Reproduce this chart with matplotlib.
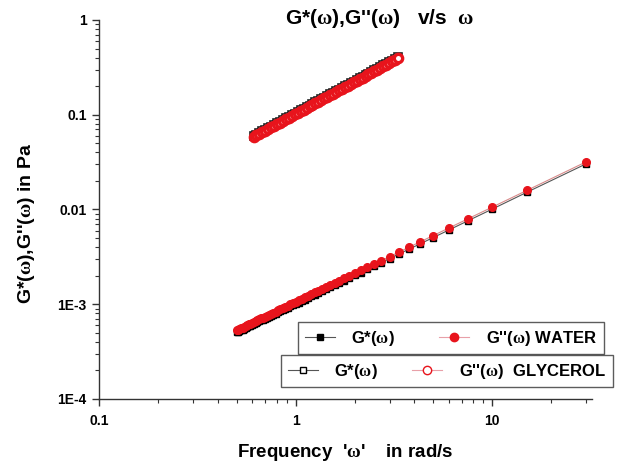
import matplotlib
matplotlib.use("Agg")
import matplotlib.pyplot as plt
from matplotlib.lines import Line2D
from matplotlib.ticker import FixedLocator, FixedFormatter, LogLocator, NullFormatter

plt.rcParams['font.family'] = ['Liberation Sans', 'DejaVu Sans']
plt.rcParams['font.weight'] = 'bold'
plt.rcParams['mathtext.fontset'] = 'custom'
plt.rcParams['mathtext.rm'] = 'Liberation Serif'

# water: frequency (rad/s), G* and G'' (mPa)
w_water = [30, 15, 10, 7.5, 6, 5, 4.286, 3.75, 3.333, 3, 2.727, 2.5, 2.308, 2.143, 2,
           1.875, 1.765, 1.667, 1.579, 1.5, 1.429, 1.364, 1.304, 1.25, 1.2, 1.154, 1.111,
           1.071, 1.034, 1, 0.968, 0.9375, 0.909, 0.882, 0.857, 0.833, 0.811, 0.789,
           0.769, 0.75, 0.732, 0.714, 0.698, 0.682, 0.667, 0.652, 0.638, 0.625, 0.612,
           0.6, 0.588, 0.577, 0.566, 0.556, 0.545, 0.536, 0.526, 0.517, 0.508, 0.5]
gstar_water = [30.3, 15.2, 10.1, 7.58, 6.06, 5.05, 4.33, 3.79, 3.37, 3.03, 2.75, 2.53, 2.33,
               2.16, 2.02, 1.89, 1.78, 1.68, 1.59, 1.52, 1.44, 1.38, 1.32, 1.26, 1.21, 1.17,
               1.12, 1.08, 1.04, 1.01, 0.978, 0.947, 0.918, 0.891, 0.866, 0.841, 0.819,
               0.797, 0.777, 0.758, 0.739, 0.721, 0.705, 0.689, 0.674, 0.659, 0.644, 0.631,
               0.618, 0.606, 0.594, 0.583, 0.572, 0.562, 0.550, 0.541, 0.531, 0.522, 0.513,
               0.505]
gpp_water = [31.8, 15.9, 10.6, 7.95, 6.36, 5.30, 4.54, 3.98, 3.53, 3.18, 2.89, 2.65, 2.45,
             2.27, 2.12, 1.99, 1.87, 1.77, 1.67, 1.59, 1.51, 1.45, 1.38, 1.33, 1.27, 1.22,
             1.18, 1.14, 1.10, 1.06, 1.03, 0.994, 0.964, 0.935, 0.908, 0.883, 0.860, 0.836,
             0.815, 0.795, 0.776, 0.757, 0.740, 0.723, 0.707, 0.691, 0.676, 0.663, 0.649,
             0.636, 0.623, 0.612, 0.600, 0.589, 0.578, 0.568, 0.558, 0.548, 0.538, 0.530]

# glycerol: frequency (rad/s), G* and G'' (Pa)
w_glyc = [0.610, 0.631, 0.653, 0.676, 0.700, 0.724, 0.750, 0.776, 0.804, 0.832, 0.861,
          0.891, 0.923, 0.955, 0.989, 1.023, 1.059, 1.097, 1.135, 1.175, 1.216, 1.259,
          1.303, 1.349, 1.396, 1.445, 1.496, 1.549, 1.603, 1.660, 1.718, 1.778, 1.841,
          1.906, 1.972, 2.042, 2.114, 2.188, 2.265, 2.344, 2.427, 2.512, 2.600, 2.692,
          2.786, 2.884, 2.985, 3.090, 3.199, 3.311]
gstar_glyc = [0.0594, 0.0618, 0.0642, 0.0668, 0.0694, 0.0722, 0.0751, 0.0781, 0.0813,
              0.0844, 0.0878, 0.0914, 0.0949, 0.0987, 0.1027, 0.1068, 0.1111, 0.1155,
              0.1201, 0.1249, 0.1299, 0.1349, 0.1404, 0.1460, 0.1518, 0.1578, 0.1640,
              0.1705, 0.1774, 0.1844, 0.1918, 0.1994, 0.2073, 0.2155, 0.2241, 0.2331,
              0.2423, 0.2519, 0.2619, 0.2723, 0.2832, 0.2945, 0.3061, 0.3183, 0.3310,
              0.3441, 0.3578, 0.3721, 0.3869, 0.4023]
gpp_glyc = [0.0583, 0.0606, 0.0630, 0.0655, 0.0681, 0.0709, 0.0737, 0.0766, 0.0797,
            0.0828, 0.0861, 0.0896, 0.0931, 0.0968, 0.1007, 0.1047, 0.1089, 0.1132,
            0.1177, 0.1224, 0.1273, 0.1323, 0.1376, 0.1431, 0.1488, 0.1547, 0.1608,
            0.1672, 0.1739, 0.1808, 0.1880, 0.1955, 0.2032, 0.2113, 0.2197, 0.2285,
            0.2375, 0.2470, 0.2568, 0.2670, 0.2776, 0.2887, 0.3001, 0.3121, 0.3245,
            0.3374, 0.3508, 0.3648, 0.3793, 0.3944]

y_ticks = [1e-4, 1e-3, 1e-2, 1e-1, 1]
y_ticklabels = ['1E-4', '1E-3', '0.01', '0.1', '1']
x_ticks = [0.1, 1, 10]
x_ticklabels = ['0.1', '1', '10']

W = r'$\mathrm{\omega}$'
RED = '#e8141c'

fig = plt.figure(figsize=(6.2, 4.65), dpi=100)
ax = fig.add_axes([0.160, 0.142, 0.795, 0.815])

ax.plot(w_glyc, gstar_glyc, color='black', lw=0.8, marker='s', ms=5.5,
        mfc='white', mec='#222222', mew=1.2)
ax.plot(w_glyc, gpp_glyc, color=RED, lw=0.8, marker='o', ms=6,
        mfc='white', mec=RED, mew=2.4)
ax.plot(w_water, [g * 1e-3 for g in gstar_water], color='#555555', lw=0.8, marker='s',
        ms=5, mfc='black', mec='black')
ax.plot(w_water, [g * 1e-3 for g in gpp_water], color='#d88a8a', lw=0.8, marker='o',
        ms=5.5, mfc=RED, mec=RED)

ax.set_xscale('log')
ax.set_yscale('log')
ax.set_xlim(0.1, 32.2)
ax.set_ylim(1e-4, 1)

ax.xaxis.set_major_locator(FixedLocator(x_ticks))
ax.xaxis.set_major_formatter(FixedFormatter(x_ticklabels))
ax.yaxis.set_major_locator(FixedLocator(y_ticks))
ax.yaxis.set_major_formatter(FixedFormatter(y_ticklabels))
for axis in (ax.xaxis, ax.yaxis):
    axis.set_minor_locator(LogLocator(base=10, subs=range(2, 10), numticks=20))
    axis.set_minor_formatter(NullFormatter())

ax.tick_params(which='major', length=5, width=1, labelsize=10, pad=4, color='#333333')
ax.tick_params(which='minor', length=3, width=0.8, color='#333333')
ax.tick_params(axis='x', which='major', pad=6)
for lab in ax.get_xticklabels() + ax.get_yticklabels():
    lab.set_fontweight('bold')

for s in ('top', 'right'):
    ax.spines[s].set_visible(False)
for s in ('left', 'bottom'):
    ax.spines[s].set_linewidth(1.0)
    ax.spines[s].set_color('#333333')

ax.set_xlabel("Frequency  '" + W + "'    in rad/s", fontsize=13.5, fontweight='bold', labelpad=10)
ax.set_ylabel("G*(" + W + "),G''(" + W + ") in Pa", fontsize=14, fontweight='bold')
ax.yaxis.set_label_coords(-0.127, 0.463)
fig.text(285 / 620, 1 - 18 / 465, "G*(" + W + "),G''(" + W + ")   v/s  " + W,
         fontsize=15, fontweight='bold', ha='left', va='center')

# legends
h_water = [Line2D([], [], color='#555555', lw=0.8, marker='s', ms=5, mfc='black', mec='black'),
           Line2D([], [], color='#e8a0a8', lw=0.8, marker='o', ms=6, mfc=RED, mec=RED)]
h_glyc = [Line2D([], [], color='#555555', lw=0.8, marker='s', ms=5, mfc='white', mec='black'),
          Line2D([], [], color='#e8a0a8', lw=0.8, marker='o', ms=6, mfc='white', mec=RED)]

leg1 = fig.legend(h_water, ["G*(" + W + ")", "G''(" + W + ") WATER"], ncol=2,
                  loc='upper left', bbox_to_anchor=(298 / 620, 1 - 322 / 465),
                  frameon=True, fancybox=False, borderaxespad=0, columnspacing=2.65,
                  handlelength=1.8, handletextpad=1.0, borderpad=0.4,
                  prop={'weight': 'bold', 'size': 12})
leg2 = fig.legend(h_glyc, ["G*(" + W + ")", "G''(" + W + ")  GLYCEROL"], ncol=2,
                  loc='upper left', bbox_to_anchor=(281 / 620, 1 - 355 / 465),
                  frameon=True, fancybox=False, borderaxespad=0, columnspacing=2.05,
                  handlelength=1.8, handletextpad=1.0, borderpad=0.4,
                  prop={'weight': 'bold', 'size': 12})
for leg in (leg1, leg2):
    fr = leg.get_frame()
    fr.set_edgecolor('#333333')
    fr.set_linewidth(1.0)

fig.savefig('out.png', dpi=100)
